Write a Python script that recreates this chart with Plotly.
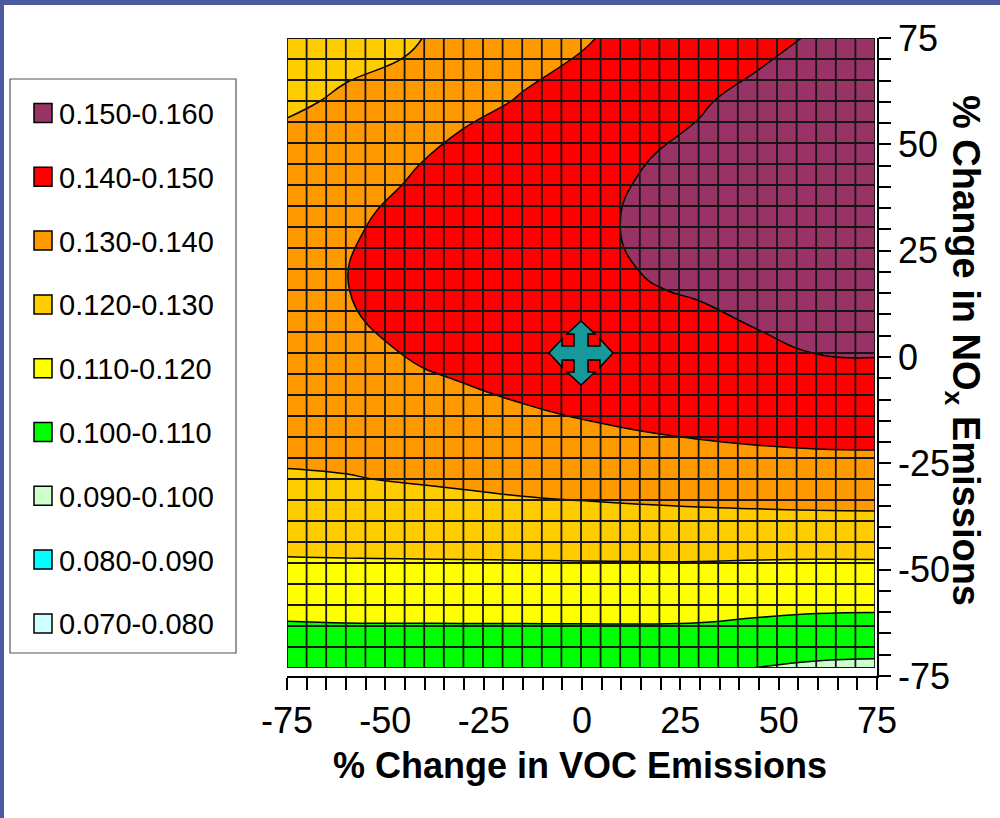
import plotly.graph_objects as go

# ---------------- data ----------------
voc_change = [-75, -60, -45, -30, -15, 0, 15, 30, 45, 60, 75]   # % change in VOC emissions (x)
nox_change = [-75, -60, -45, -30, -15, 0, 15, 30, 45, 60, 75]   # % change in NOx emissions (y)

# peak ozone (ppm), one list per NOx level, values across the VOC levels
o3_nox_m75 = [0.1019, 0.1017, 0.1016, 0.1015, 0.1014, 0.1013, 0.1012, 0.1011, 0.0999, 0.0985, 0.0980]
o3_nox_m60 = [0.1128, 0.1133, 0.1134, 0.1135, 0.1136, 0.1137, 0.1138, 0.1135, 0.1125, 0.1118, 0.1116]
o3_nox_m45 = [0.1222, 0.1223, 0.1224, 0.1225, 0.1226, 0.1227, 0.1228, 0.1229, 0.1230, 0.1231, 0.1232]
o3_nox_m30 = [0.1293, 0.1296, 0.1305, 0.1315, 0.1328, 0.1338, 0.1348, 0.1357, 0.1363, 0.1368, 0.1370]
o3_nox_m15 = [0.1335, 0.1345, 0.1360, 0.1378, 0.1390, 0.1403, 0.1416, 0.1425, 0.1432, 0.1435, 0.1435]
o3_nox_0 = [0.1365, 0.1378, 0.1402, 0.1420, 0.1440, 0.1448, 0.1465, 0.1475, 0.1485, 0.1501, 0.1505]
o3_nox_p15 = [0.1380, 0.1398, 0.1430, 0.1452, 0.1468, 0.1472, 0.1496, 0.1505, 0.1525, 0.1545, 0.1550]
o3_nox_p30 = [0.1365, 0.1387, 0.1425, 0.1458, 0.1475, 0.1480, 0.1510, 0.1535, 0.1555, 0.1570, 0.1578]
o3_nox_p45 = [0.1335, 0.1357, 0.1390, 0.1428, 0.1455, 0.1470, 0.1498, 0.1525, 0.1560, 0.1580, 0.1590]
o3_nox_p60 = [0.1287, 0.1310, 0.1335, 0.1378, 0.1405, 0.1435, 0.1468, 0.1490, 0.1528, 0.1565, 0.1585]
o3_nox_p75 = [0.1250, 0.1275, 0.1285, 0.1335, 0.1370, 0.1390, 0.1430, 0.1462, 0.1470, 0.1510, 0.1560]

band_labels = ["0.150-0.160", "0.140-0.150", "0.130-0.140", "0.120-0.130", "0.110-0.120",
               "0.100-0.110", "0.090-0.100", "0.080-0.090", "0.070-0.080"]
band_colors = ["#993366", "#FF0000", "#FF9900", "#FFCC00", "#FFFF00",
               "#00FF00", "#CCFFCC", "#00FFFF", "#CCFFFF"]
contour_start, contour_end, contour_step = 0.08, 0.15, 0.01
grid_step = 5
axis_tickvals = [-75, -50, -25, 0, 25, 50, 75]
axis_ticktext = ["-75", "-50", "-25", "0", "25", "50", "75"]
base_case = (0, 0)

x_title = "<b>% Change in VOC Emissions</b>"
y_title = "<b>% Change in NO<sub>x</sub> Emissions</b>"

# ---------------- layout helpers ----------------
W, H = 1000, 818
FONT = "Liberation Sans, Arial, sans-serif"


def fx(p):
    return p / W


def fy(p):
    return 1 - p / H


o3_rows = [o3_nox_m75, o3_nox_m60, o3_nox_m45, o3_nox_m30, o3_nox_m15, o3_nox_0,
           o3_nox_p15, o3_nox_p30, o3_nox_p45, o3_nox_p60, o3_nox_p75]

low_to_high = band_colors[::-1]
n_col = len(low_to_high)
colorscale = [[i / (n_col - 1), c] for i, c in enumerate(low_to_high)]

fig = go.Figure()
fig.add_trace(go.Contour(
    x=voc_change, y=nox_change, z=o3_rows,
    colorscale=colorscale, showscale=False, autocontour=False,
    contours=dict(start=contour_start, end=contour_end, size=contour_step,
                  coloring="fill", showlines=True),
    line=dict(color="black", width=1.5, smoothing=1.3),
    hoverinfo="skip",
))
# invisible trace carrying the displayed axes
fig.add_trace(go.Scatter(x=[0], y=[0], xaxis="x2", yaxis="y2", mode="markers",
                         marker=dict(size=1, opacity=0), showlegend=False, hoverinfo="skip"))

shapes = []
# blue frame strips (top and left)
shapes.append(dict(type="rect", xref="paper", yref="paper", x0=0, x1=1, y0=fy(5), y1=1,
                   fillcolor="#4B5A9E", line=dict(width=0), layer="above"))
shapes.append(dict(type="rect", xref="paper", yref="paper", x0=0, x1=fx(4), y0=0, y1=1,
                   fillcolor="#4B5A9E", line=dict(width=0), layer="above"))

# surface grid
xmin, xmax = voc_change[0], voc_change[-1]
ymin, ymax = nox_change[0], nox_change[-1]
v = xmin
while v <= xmax:
    shapes.append(dict(type="line", xref="x", yref="y", x0=v, x1=v, y0=ymin, y1=ymax,
                       line=dict(color="#151515", width=1.8), layer="above"))
    v += grid_step
v = ymin
while v <= ymax:
    shapes.append(dict(type="line", xref="x", yref="y", x0=xmin, x1=xmax, y0=v, y1=v,
                       line=dict(color="#151515", width=1.8), layer="above"))
    v += grid_step

# base-case marker (four-way arrow), drawn in pixel offsets around the base case
tip, head_base, head_half, shaft_half = 32, 19, 14, 7
pts = [(0, tip), (head_half, head_base), (shaft_half, head_base), (shaft_half, shaft_half),
       (head_base, shaft_half), (head_base, head_half), (tip, 0), (head_base, -head_half),
       (head_base, -shaft_half), (shaft_half, -shaft_half), (shaft_half, -head_base),
       (head_half, -head_base), (0, -tip), (-head_half, -head_base), (-shaft_half, -head_base),
       (-shaft_half, -shaft_half), (-head_base, -shaft_half), (-head_base, -head_half),
       (-tip, 0), (-head_base, head_half), (-head_base, shaft_half), (-shaft_half, shaft_half),
       (-shaft_half, head_base), (-head_half, head_base)]
path = "M " + " L ".join(f"{a} {b}" for a, b in pts) + " Z"
shapes.append(dict(type="path", xref="x", yref="y", xsizemode="pixel", ysizemode="pixel",
                   xanchor=base_case[0], yanchor=base_case[1], path=path,
                   fillcolor="#17999B", line=dict(color="black", width=1.5), layer="above"))

# legend box
shapes.append(dict(type="rect", xref="paper", yref="paper", x0=fx(10), x1=fx(236), y0=fy(653), y1=fy(79),
                   fillcolor="white", line=dict(color="#555555", width=1.2), layer="above"))
annotations = []
for i, (lab, col) in enumerate(zip(band_labels, band_colors)):
    yc = 113 + i * 63.8
    shapes.append(dict(type="rect", xref="paper", yref="paper", x0=fx(34), x1=fx(52),
                       y0=fy(yc + 9.5), y1=fy(yc - 9.5), fillcolor=col,
                       line=dict(color="black", width=1.5), layer="above"))
    annotations.append(dict(text=lab, xref="paper", yref="paper", x=fx(57), y=fy(yc + 1),
                            xanchor="left", yanchor="middle", showarrow=False,
                            font=dict(family=FONT, size=29, color="black")))

annotations.append(dict(text=x_title, xref="paper", yref="paper", x=fx(580), y=fy(765),
                        xanchor="center", yanchor="middle", showarrow=False,
                        font=dict(family=FONT, size=36, color="black")))
annotations.append(dict(text=y_title, xref="paper", yref="paper", x=fx(963), y=fy(350),
                        xanchor="center", yanchor="middle", showarrow=False, textangle=90,
                        font=dict(family=FONT, size=38, color="black")))

axis_common = dict(range=[-75, 75], showgrid=False, zeroline=False, showline=True,
                   linecolor="black", linewidth=1.5, ticks="outside", ticklen=12,
                   tickwidth=1.5, tickcolor="black",
                   tickmode="array", tickvals=axis_tickvals, ticktext=axis_ticktext,
                   minor=dict(dtick=5, tick0=0, ticklen=12, tickwidth=1.5, tickcolor="black", ticks="outside"),
                   tickfont=dict(family=FONT, size=36, color="black"), fixedrange=True,
                   automargin=False)

fig.update_layout(
    width=W, height=H, margin=dict(l=0, r=0, t=0, b=0, pad=0, autoexpand=False),
    paper_bgcolor="white", plot_bgcolor="rgba(0,0,0,0)", showlegend=False,
    xaxis=dict(domain=[fx(287), fx(875)], range=[xmin, xmax], visible=False, anchor="y", fixedrange=True),
    yaxis=dict(domain=[fy(668), fy(38)], range=[ymin, ymax], visible=False, anchor="x", fixedrange=True),
    xaxis2=dict(domain=[fx(287), fx(877)], anchor="y2", side="bottom", **axis_common),
    yaxis2=dict(domain=[fy(676), fy(38)], anchor="x2", side="right", **axis_common),
    shapes=shapes, annotations=annotations,
)

fig.write_html("out.html")
